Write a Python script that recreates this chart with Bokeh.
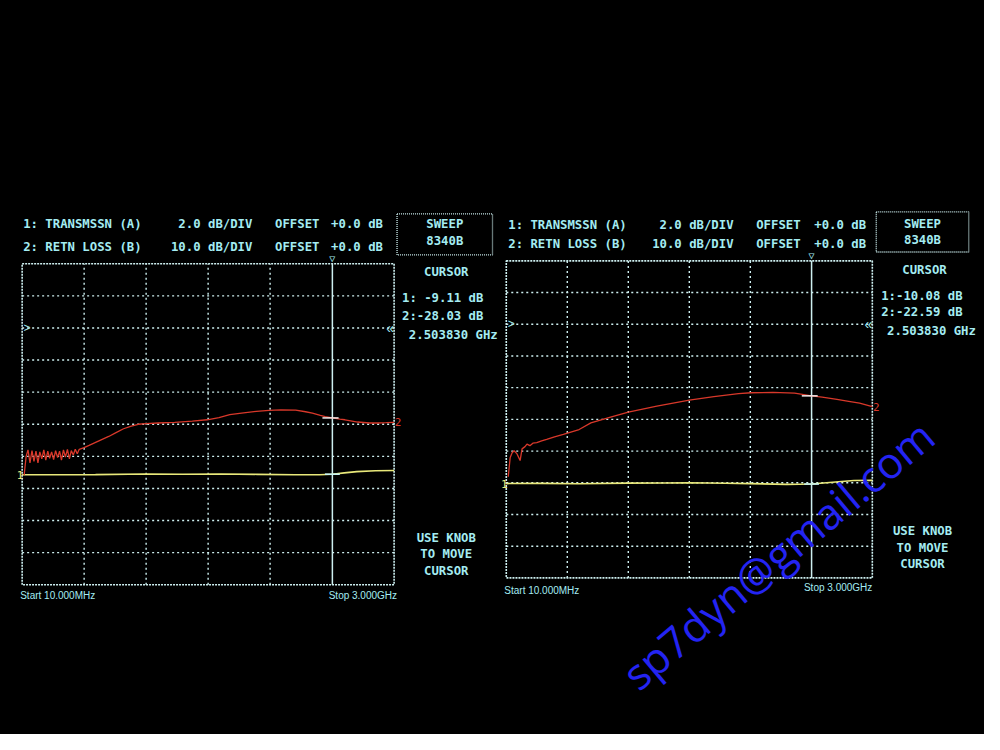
from bokeh.plotting import figure
from bokeh.models import Range1d, Label
from bokeh.layouts import row
from bokeh.embed import file_html
from bokeh.resources import INLINE

# ---------------- data ----------------
F_START = 0.010      # GHz
F_STOP = 3.000       # GHz
CURSOR_F = 2.503830  # GHz
TR_SCALE = 2.0       # dB/div  (trace 1, transmission)
RL_SCALE = 10.0      # dB/div  (trace 2, return loss)
REF_DIV = 8          # reference line (0 dB) position in divisions from bottom
N_XDIV = 6
N_YDIV = 10

header_labels = ["1: TRANSMSSN (A)", "2: RETN LOSS (B)"]
scale_labels = ["2.0 dB/DIV", "10.0 dB/DIV"]
offset_labels = ["OFFSET", "OFFSET"]
offset_values = ["+0.0 dB", "+0.0 dB"]
sweep_labels = ["SWEEP", "8340B"]
knob_labels = ["USE KNOB", "TO MOVE", "CURSOR"]
start_label = "Start 10.000MHz"
stop_label = "Stop 3.000GHz"
cursor_freq_label = "2.503830 GHz"

# left measurement
left_cursor_labels = ["1: -9.11 dB", "2:-28.03 dB"]
left_cursor_vals = [-9.11, -28.03]
left_tr_f = [0.010, 0.300, 0.600, 1.000, 1.300, 1.600, 1.900, 2.200, 2.400,
             2.503, 2.600, 2.700, 2.850, 3.000]
left_tr_db = [-9.15, -9.15, -9.14, -9.10, -9.11, -9.10, -9.12, -9.15, -9.15,
              -9.11, -9.03, -8.95, -8.90, -8.88]
left_rl_f = [0.026, 0.042, 0.057, 0.073, 0.089, 0.105, 0.121, 0.137, 0.152, 0.168,
             0.184, 0.200, 0.216, 0.231, 0.247, 0.263, 0.279, 0.295, 0.311, 0.326,
             0.342, 0.358, 0.374, 0.390, 0.405, 0.421, 0.437, 0.453, 0.469, 0.508,
             0.548, 0.627, 0.706, 0.761, 0.825, 0.888, 0.943, 1.007, 1.101, 1.236,
             1.378, 1.497, 1.592, 1.679, 1.774, 1.893, 1.995, 2.090, 2.209, 2.288,
             2.343, 2.407, 2.446, 2.503, 2.565, 2.605, 2.707, 2.802, 2.866, 2.937,
             3.000]
left_rl_db = [-45.9, -40.0, -38.0, -42.0, -38.2, -41.6, -38.4, -42.0, -38.6, -40.8,
              -38.0, -41.2, -38.4, -40.6, -38.6, -41.0, -38.2, -40.4, -38.4, -41.2,
              -38.0, -40.2, -37.8, -40.8, -38.2, -39.6, -37.8, -39.2, -37.8, -37.3,
              -36.6, -35.2, -33.8, -32.7, -31.4, -30.6, -30.0, -29.8, -29.6, -29.4,
              -29.0, -28.6, -27.9, -27.0, -26.5, -26.0, -25.7, -25.5, -25.6, -26.1,
              -26.5, -27.2, -27.6, -28.0, -28.4, -28.6, -29.3, -29.6, -29.6, -29.5,
              -29.4]

# right measurement
right_cursor_labels = ["1:-10.08 dB", "2:-22.59 dB"]
right_cursor_vals = [-10.08, -22.59]
right_tr_f = [0.010, 0.300, 0.600, 1.000, 1.300, 1.500, 1.800, 2.000, 2.300,
              2.503, 2.700, 2.850, 3.000]
right_tr_db = [-10.05, -10.04, -10.06, -10.02, -10.01, -10.00, -10.03, -10.05, -10.10,
               -10.08, -9.95, -9.86, -9.85]
right_rl_f = [0.026, 0.042, 0.058, 0.074, 0.098, 0.123, 0.139, 0.163, 0.179, 0.203,
              0.227, 0.259, 0.299, 0.340, 0.404, 0.476, 0.605, 0.701, 0.862, 1.007,
              1.240, 1.505, 1.706, 1.907, 2.011, 2.188, 2.365, 2.503, 2.590, 2.711,
              2.807, 2.896, 3.000]
right_rl_db = [-48.1, -42.0, -40.5, -39.9, -40.9, -43.0, -39.3, -38.6, -37.8, -38.3,
               -37.5, -37.3, -36.8, -36.3, -35.5, -34.7, -33.2, -31.1, -29.3, -27.7,
               -25.8, -23.9, -22.8, -21.9, -21.6, -21.5, -21.7, -22.6, -23.0, -23.7,
               -24.3, -24.9, -26.0]

watermark = "sp7dyn@gmail.com"

# ---------------- style ----------------
BG = "#000000"
CYAN = "#a4ecf2"
GRID = "#cdeff0"
RED = "#d8382a"
YELLOW = "#e8e87a"
BLUE = "#2424f2"
MONO = "DejaVu Sans Mono"
SANS = "Liberation Sans"

TR_LO = -REF_DIV * TR_SCALE
TR_HI = (N_YDIV - REF_DIV) * TR_SCALE
RL_LO = -REF_DIV * RL_SCALE
RL_HI = (N_YDIV - REF_DIV) * RL_SCALE

TOTAL_W, TOTAL_H = 984, 734
SX = TOTAL_W / 1000.0   # reference-pixel -> canvas-pixel factors
SY = TOTAL_H / 750.0


def make_panel(fig_x, fig_w, frame, tr_f, tr_db, rl_f, rl_db, cur_labels, cur_vals, pos):
    L, T, R, B = frame  # graticule edges, reference-picture pixels
    gl = L * SX - fig_x
    gr = R * SX - fig_x
    gt = T * SY
    gb = B * SY
    dfx = (F_STOP - F_START) / (gr - gl)
    dty = (TR_HI - TR_LO) / (gb - gt)
    dry = (RL_HI - RL_LO) / (gb - gt)

    def X(px):
        return F_START + (px * SX - fig_x - gl) * dfx

    def Y(py):
        return TR_LO + (gb - py * SY) * dty

    p = figure(width=fig_w, height=TOTAL_H, output_backend="svg",
               toolbar_location=None, x_axis_location=None, y_axis_location=None,
               x_range=Range1d(F_START - gl * dfx, F_STOP + (fig_w - gr) * dfx),
               y_range=Range1d(TR_LO - (TOTAL_H - gb) * dty, TR_HI + gt * dty),
               min_border=0)
    p.extra_y_ranges = {"rl": Range1d(RL_LO - (TOTAL_H - gb) * dry, RL_HI + gt * dry)}
    p.background_fill_color = BG
    p.border_fill_color = BG
    p.outline_line_color = None
    p.xgrid.visible = False
    p.ygrid.visible = False

    # graticule
    step_x = (F_STOP - F_START) / N_XDIV
    gx = [F_START + k * step_x for k in range(1, N_XDIV) if k != 5]
    p.segment(x0=gx, y0=[TR_LO] * len(gx), x1=gx, y1=[TR_HI] * len(gx),
              line_color=GRID, line_width=1.4, line_dash="2 3")
    gy = [TR_LO + k * TR_SCALE for k in range(1, N_YDIV)]
    p.segment(x0=[F_START] * len(gy), y0=gy, x1=[F_STOP] * len(gy), y1=gy,
              line_color=GRID, line_width=1.4, line_dash="2 3")
    p.quad(left=[F_START], right=[F_STOP], bottom=[TR_LO], top=[TR_HI],
           fill_alpha=0, line_color=GRID, line_width=1.6, line_dash="2 1")
    p.segment(x0=[CURSOR_F], y0=[TR_LO], x1=[CURSOR_F], y1=[TR_HI],
              line_color=GRID, line_width=1.5)

    # traces
    p.line(tr_f, tr_db, line_color=YELLOW, line_width=1.6)
    p.line(rl_f, rl_db, line_color=RED, line_width=1.3, y_range_name="rl")
    # cursor highlight on traces
    p.segment(x0=[CURSOR_F - 0.06], y0=[cur_vals[0]], x1=[CURSOR_F + 0.06], y1=[cur_vals[0]],
              line_color="#c8f4f4", line_width=1.6)
    p.segment(x0=[CURSOR_F - 0.08], y0=[cur_vals[1]], x1=[CURSOR_F + 0.05], y1=[cur_vals[1]],
              line_color="#ffffff", line_width=1.4, y_range_name="rl")

    def lab(px, py, text, align="left", color=CYAN, size="12.3px", font=MONO,
            style="bold"):
        p.add_layout(Label(x=X(px), y=Y(py), text=text, text_align=align,
                           text_baseline="middle", text_color=color,
                           text_font=font, text_font_size=size,
                           text_font_style=style))

    # header rows
    for i in range(2):
        ry = pos["rows"][i]
        lab(pos["col0"], ry, header_labels[i])
        lab(pos["col1"], ry, scale_labels[i], align="right")
        lab(pos["col2"], ry, offset_labels[i])
        lab(pos["col3"], ry, offset_values[i])

    # sweep box
    bx0, by0, bx1, by1 = pos["box"]
    p.quad(left=[X(bx0)], right=[X(bx1)], top=[Y(by0)], bottom=[Y(by1)],
           fill_alpha=0, line_color=GRID, line_width=1.3, line_dash="1 1")
    cx = (bx0 + bx1) / 2
    lab(cx, pos["sweep_y"][0], sweep_labels[0], align="center")
    lab(cx, pos["sweep_y"][1], sweep_labels[1], align="center")

    # cursor readout
    lab(pos["cur_cx"], pos["cur_y"], "CURSOR", align="center")
    lab(pos["read_x"], pos["read_y"][0], cur_labels[0])
    lab(pos["read_x"], pos["read_y"][1], cur_labels[1])
    lab(pos["freq_x"], pos["read_y"][2], cursor_freq_label)

    # knob message
    for t, ky in zip(knob_labels, pos["knob_y"]):
        lab(pos["knob_cx"], ky, t, align="center")

    # start / stop
    lab(pos["start"][0], pos["start"][1], start_label, size="10px", font=SANS,
        style="normal")
    lab(pos["stop"][0], pos["stop"][1], stop_label, align="right", size="10px",
        font=SANS, style="normal")

    # markers
    p.add_layout(Label(x=CURSOR_F, y=Y(T - 5), text="\u25bd", text_align="center",
                       text_baseline="middle", text_color=CYAN, text_font=MONO,
                       text_font_size="10px"))
    p.add_layout(Label(x=X(L + 5), y=0, text=">", text_align="center",
                       text_baseline="middle", text_color=CYAN, text_font=SANS,
                       text_font_size="12px"))
    p.add_layout(Label(x=X(R - 4), y=0, text="\u00ab", text_align="center",
                       text_baseline="middle", text_color=CYAN, text_font=SANS,
                       text_font_size="14px"))
    p.add_layout(Label(x=X(L - 2), y=tr_db[0], text="1", text_align="center",
                       text_baseline="middle", text_color=YELLOW, text_font=MONO,
                       text_font_size="11px"))
    p.add_layout(Label(x=X(R + 4), y=rl_db[-1], y_range_name="rl", text="2",
                       text_align="center", text_baseline="middle", text_color=RED,
                       text_font=MONO, text_font_size="11px"))
    return p, X, Y


left_pos = dict(rows=[228, 252], col0=23, col1=256, col2=279, col3=336,
                box=(403, 218, 500, 260), sweep_y=[228, 246],
                cur_cx=453, cur_y=277, read_x=408, read_y=[304, 322, 342], freq_x=415,
                knob_cx=453, knob_y=[549, 566, 583], start=(20, 608), stop=(403, 608))
right_pos = dict(rows=[229, 249], col0=516, col1=745, col2=768, col3=827,
                 box=(890, 216, 984, 257), sweep_y=[228, 245],
                 cur_cx=939, cur_y=275, read_x=895, read_y=[302, 318, 338], freq_x=901,
                 knob_cx=937, knob_y=[542, 559, 576], start=(512, 603), stop=(886, 600))

p1, X1, Y1 = make_panel(0, 498, (22, 269, 400, 597), left_tr_f, left_tr_db,
                        left_rl_f, left_rl_db, left_cursor_labels, left_cursor_vals,
                        left_pos)
p2, X2, Y2 = make_panel(498, 486, (514, 266, 886, 590), right_tr_f, right_tr_db,
                        right_rl_f, right_rl_db, right_cursor_labels, right_cursor_vals,
                        right_pos)

p2.add_layout(Label(x=X2(790), y=Y2(566), text=watermark, angle=40, angle_units="deg",
                    text_align="center", text_baseline="middle", text_color=BLUE,
                    text_font="Open Sans", text_font_size="43px"))

layout = row(p1, p2)
layout.styles = {"background-color": "#000000"}
open("out.html", "w").write(file_html(layout, INLINE))
